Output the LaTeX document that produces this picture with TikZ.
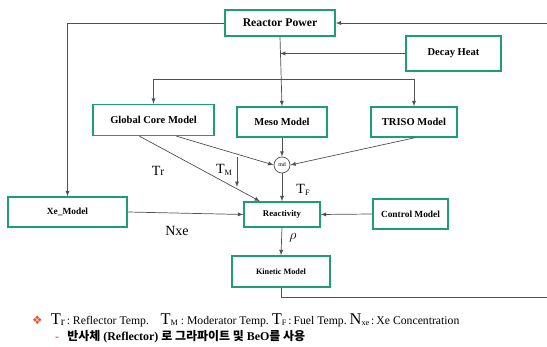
\documentclass[tikz,border=0pt]{standalone}
\usepackage{fontspec}
\setmainfont{Liberation Serif}
\newfontfamily\cjk{Noto Sans CJK KR}
\newfontfamily\symb{DejaVu Sans}
\usepackage{tikz}
\usetikzlibrary{positioning,arrows,calc}
\definecolor{boxgreen}{RGB}{30,158,120}
\definecolor{linegray}{RGB}{80,80,80}
\definecolor{accent}{RGB}{232,80,42}

\begin{document}
\begin{tikzpicture}[x=0.03cm,y=-0.03cm,>=latex,
  box/.style={draw=boxgreen,line width=1.2pt,inner sep=0pt,
    align=center,font=\bfseries},
  conn/.style={draw=linegray,line width=0.6pt},
  lbl/.style={font=\fontsize{12}{14}\selectfont}]
\clip (0,0) rectangle (547,347);
\node[box,minimum width=3.3cm,minimum height=0.78cm,font=\bfseries\fontsize{10}{12}\selectfont] (power) at (280,23) {Reactor Power};
\node[box,minimum width=2.85cm,minimum height=1.05cm,font=\bfseries\fontsize{9}{11}\selectfont] (decay) at (453.5,53.5) {Decay Heat};
\node[box,minimum width=3.63cm,minimum height=0.93cm,font=\bfseries\fontsize{9}{11}\selectfont] (global) at (153.5,120) {Global Core Model};
\node[box,minimum width=2.7cm,minimum height=0.9cm,font=\bfseries\fontsize{9}{11}\selectfont] (meso) at (282,122) {Meso Model};
\node[box,minimum width=2.58cm,minimum height=0.9cm,font=\bfseries\fontsize{9}{11}\selectfont] (triso) at (414,122) {TRISO Model};
\node[draw=linegray,circle,line width=0.6pt,minimum size=0.48cm,inner sep=0pt,font=\fontsize{5}{6}\selectfont] (mid) at (282,165) {md};
\node[box,minimum width=3.57cm,minimum height=0.9cm,font=\bfseries\fontsize{8}{10}\selectfont] (xe) at (67.5,212) {Xe\_Model};
\node[box,minimum width=2.28cm,minimum height=0.75cm,font=\bfseries\fontsize{7.5}{9}\selectfont] (react) at (282,214.5) {Reactivity};
\node[box,minimum width=2.25cm,minimum height=0.9cm,font=\bfseries\fontsize{8}{10}\selectfont] (control) at (410.5,214) {Control Model};
\node[box,minimum width=2.94cm,minimum height=0.93cm,font=\bfseries\fontsize{7}{9}\selectfont] (kinetic) at (281,271.5) {Kinetic Model};

\coordinate (split) at (282,79);
\coordinate (loopbr) at (549,297);
\coordinate (looptr) at (549,23);
\coordinate (tmtop) at (237,157);
\coordinate (tmbot) at (237,187);

% feedback loops
\draw[conn,->] (power.west) -| (xe.north);
\draw[conn,->] (kinetic.south) |- (loopbr) -- (looptr) -- (power.east);
\draw[conn,->] (power.south) -- (meso.north);
\draw[conn,->] (decay.west) -- (decay.west -| power.south);
\draw[conn,->] (split) -| (global.north);
\draw[conn,->] (split) -| (triso.north);
% temperatures
\draw[conn,->] ($(global.south)+(-14,0)$) -- ($(react.north)+(-22,0)$);
\draw[conn,->] ($(global.south)+(23,0)$) -- (mid.west);
\draw[conn,->] ($(triso.south)+(1,0)$) -- (mid.east);
\draw[conn,->] (meso.south) -- (mid.north);
\draw[conn,->] (mid.south) -- (react.north);
\draw[conn,->] (tmtop) -- (tmbot);
\draw[conn,->] (xe.east) -- (react.west);
\draw[conn,->] (control.west) -- (react.east);
\draw[conn,->] (react.south) -- (kinetic.north);

\node[lbl] (tr) at (158,171) {T\raisebox{-0.5pt}{\fontsize{10}{12}\selectfont r}};
\node[lbl] (tm) at (224,170) {T\raisebox{-2pt}{\fontsize{7}{8}\selectfont M}};
\node[lbl] (tf) at (303,190) {T\raisebox{-2pt}{\fontsize{7}{8}\selectfont F}};
\node[lbl] (nxe) at (177,231) {Nxe};
\node[lbl] (rho) at (293,238) {$\rho$};

% legend
\node[anchor=west,inner sep=0pt,font=\fontsize{10}{12}\selectfont] (legend) at (32,320)
  {{\symb\color{accent}\fontsize{10}{11}\selectfont ❖}\hspace{7pt}{\fontsize{14}{16}\selectfont T}\raisebox{-1pt}{r}\,:\ Reflector Temp.\hspace{10pt}{\fontsize{14}{16}\selectfont T}\raisebox{-1pt}{\fontsize{7}{8}\selectfont M}\ :\ Moderator Temp.\ {\fontsize{14}{16}\selectfont T}\raisebox{-1pt}{\fontsize{7}{8}\selectfont F}\,:\,Fuel Temp.\ {\fontsize{14}{16}\selectfont N}\raisebox{-1pt}{\fontsize{7}{8}\selectfont xe}\,:\,Xe Concentration};
\node[anchor=west,inner sep=0pt,font=\bfseries\fontsize{10.2}{12}\selectfont] (note) at (55,337)
  {{\color{accent}-}\hspace{7pt}{\cjk 반사체} (Reflector) {\cjk 로 그라파이트 및} BeO{\cjk 를 사용}};
\end{tikzpicture}
\end{document}
